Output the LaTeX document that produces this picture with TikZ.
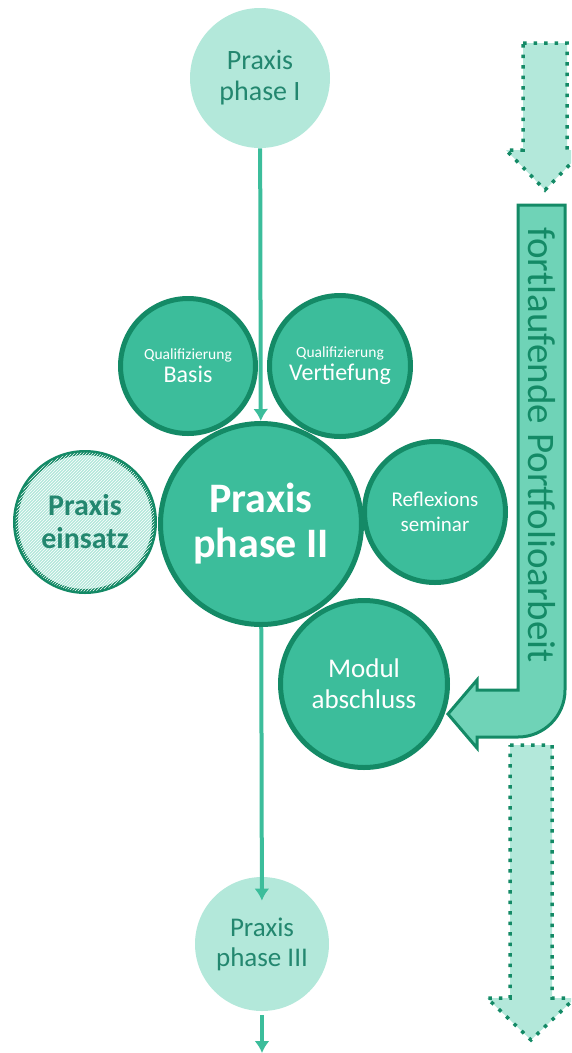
\documentclass[tikz,border=0pt]{standalone}
\usepackage{fontspec}
\setmainfont{Carlito}
\usetikzlibrary{arrows.meta,patterns}

\definecolor{mint}{HTML}{B3E8DA}
\definecolor{midgreen}{HTML}{3CBD9B}
\definecolor{darkgreen}{HTML}{148A66}
\definecolor{arrowfill}{HTML}{6FD3B7}
\definecolor{textteal}{HTML}{23876F}

\begin{document}
\begin{tikzpicture}[x=1pt,y=-1pt,thick]
      \tikzstyle{phase}=[circle,inner sep=0pt,align=center,
        fill=mint,text=textteal]
      \tikzstyle{modul}=[circle,inner sep=0pt,align=center,
        draw=darkgreen,line width=5pt,fill=midgreen,text=white]

      \useasboundingbox (0,0) rectangle (571,1053);
      \clip (0,0) rectangle (571,1053);

      % side arrows
      \tikzstyle{dotarrow}=[fill=mint,draw=darkgreen,line width=3.5pt,
        dash pattern=on 3.5pt off 7pt]
      \draw[dotarrow] (523,43) -- (567,43) -- (567,150) -- (584,150)
           -- (545,190) -- (506,150) -- (523,150) -- cycle;
      \draw[dotarrow] (510,745) -- (552,745) -- (552,998) -- (575,998)
           -- (531,1040) -- (487,998) -- (510,998) -- cycle;
      \draw[fill=arrowfill,draw=darkgreen,line width=3pt]
           (518,205) -- (565,205) -- (565,690)
           .. controls (565,716) and (544,737) .. (518,737)
           -- (477,737) -- (477,748) -- (448,714) -- (477,680)
           -- (477,690) -- (518,690) -- cycle;
      \node[rotate=-90,text=darkgreen,font=\fontsize{39}{42}\selectfont]
           (PF) at (542,445) {fortlaufende Portfolioarbeit};

      % circles
      \node[phase,minimum size=140pt,font=\fontsize{28}{31}\selectfont]
           (P1) at (260,78) {Praxis\\phase I};
      \node[modul,minimum size=135pt] (QB) at (188,366)
           {{\fontsize{15.5}{17}\selectfont Qualifizierung}\\[3pt]
            {\fontsize{24}{26}\selectfont Basis}};
      \node[modul,minimum size=141pt] (QV) at (340,366)
           {{\fontsize{15.5}{17}\selectfont Qualifizierung}\\[3pt]
            {\fontsize{24}{26}\selectfont Vertiefung}};
      \node[modul,minimum size=201pt,font=\bfseries\fontsize{42}{45}\selectfont]
           (P2) at (261,524) {Praxis\\phase II};
      \node[modul,minimum size=139pt,fill=mint,text=textteal,
           postaction={pattern=north east lines,pattern color=white},
           font=\bfseries\fontsize{30}{33}\selectfont]
           (PE) at (85,522) {Praxis\\einsatz};
      \node[modul,minimum size=141pt,font=\fontsize{21}{25}\selectfont]
           (RS) at (435,512) {Reflexions\\seminar};
      \node[modul,minimum size=167pt,font=\fontsize{27}{31}\selectfont]
           (MA) at (364,684) {Modul\\abschluss};
      \node[phase,minimum size=134pt,font=\fontsize{27}{30}\selectfont]
           (P3) at (262,944) {Praxis\\phase III};
      \coordinate (out) at (262,1053);

      % flow
      \tikzstyle{flow}=[-{Latex[length=12pt,width=15pt]},
        line width=4pt,draw=midgreen]
      \draw[flow] (P1) -- (P2);
      \draw[flow,shorten >=-24pt] (P2) -- (P3);
      \draw[flow,shorten <=4pt] (P3) -- (out);

    \end{tikzpicture}
\end{document}
